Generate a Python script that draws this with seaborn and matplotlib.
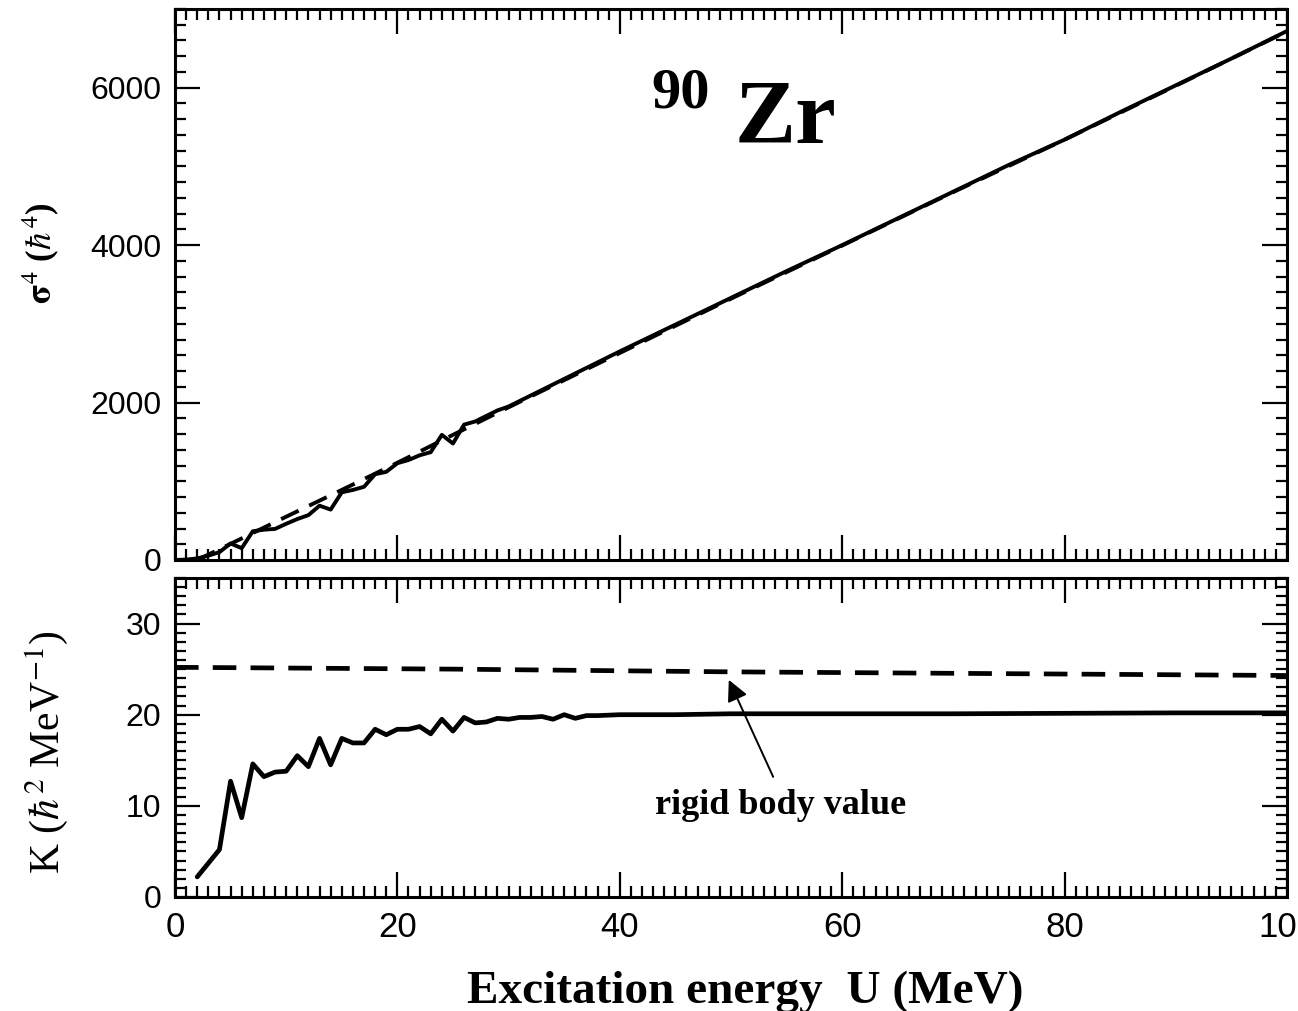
import seaborn as sns
from matplotlib import pyplot as plt
from matplotlib.ticker import MultipleLocator

# upper panel: sigma^4 (hbar^4) vs excitation energy U (MeV)
u_sigma = [0, 1, 2, 3, 4, 5, 6, 7, 8, 9, 10, 11, 12, 13, 14, 15, 16, 17, 18, 19,
           20, 21, 22, 23, 24, 25, 26, 27, 28, 29, 30, 32, 34, 36, 38, 40, 45, 50,
           55, 60, 65, 70, 75, 80, 85, 90, 95, 100]
sigma4 = [0, 5, 20, 55, 100, 210, 150, 365, 385, 395, 460, 520, 570, 690, 640, 860,
          890, 930, 1090, 1120, 1230, 1270, 1330, 1370, 1590, 1480, 1720, 1760, 1830,
          1900, 1950, 2090, 2230, 2370, 2510, 2650, 2990, 3330, 3670, 4000, 4340,
          4680, 5020, 5340, 5690, 6030, 6370, 6720]
u_sigma_rigid = [2, 5, 10, 15, 20, 25, 30, 40, 50, 60, 70, 80, 90, 100]
sigma4_rigid = [0, 205, 550, 890, 1235, 1590, 1940, 2630, 3320, 3995, 4675, 5340, 6025, 6715]

# lower panel: K (hbar^2 MeV^-1)
u_k = [2, 4, 5, 6, 7, 8, 9, 10, 11, 12, 13, 14, 15, 16, 17, 18, 19, 20, 21, 22, 23,
       24, 25, 26, 27, 28, 29, 30, 31, 32, 33, 34, 35, 36, 37, 38, 40, 45, 50, 60,
       70, 80, 90, 100]
k_calc = [2.2, 5.2, 12.7, 8.7, 14.6, 13.2, 13.7, 13.8, 15.5, 14.3, 17.4, 14.5, 17.4,
          16.9, 16.9, 18.4, 17.8, 18.4, 18.4, 18.7, 17.9, 19.5, 18.2, 19.7, 19.1, 19.2,
          19.6, 19.5, 19.7, 19.7, 19.8, 19.5, 20.0, 19.6, 19.9, 19.9, 20.0, 20.0, 20.1,
          20.1, 20.1, 20.15, 20.2, 20.2]
u_k_rigid = [0, 25, 50, 75, 100]
k_rigid = [25.2, 25.0, 24.7, 24.5, 24.3]

sns.set_theme(style="ticks")
plt.rcParams["font.family"] = ["Liberation Sans", "DejaVu Sans"]
plt.rcParams["text.color"] = "black"
plt.rcParams["xtick.labelcolor"] = "black"
plt.rcParams["ytick.labelcolor"] = "black"
plt.rcParams["mathtext.fontset"] = "stix"
serif = ["Liberation Serif", "DejaVu Serif"]

fig = plt.figure(figsize=(12.98, 10.11), dpi=100)
ax1 = fig.add_axes([0.1348, 0.4461, 0.8567, 0.5450])
ax2 = fig.add_axes([0.1348, 0.1128, 0.8567, 0.3155])

sns.lineplot(x=u_sigma, y=sigma4, ax=ax1, color="black", lw=2.8)
sns.lineplot(x=u_sigma_rigid, y=sigma4_rigid, ax=ax1, color="black", lw=2.8,
             linestyle=(0, (5, 3)))
sns.lineplot(x=u_k, y=k_calc, ax=ax2, color="black", lw=3.4)
sns.lineplot(x=u_k_rigid, y=k_rigid, ax=ax2, color="black", lw=3.4,
             linestyle=(0, (5, 3)))

ax1.set_xlim(0, 100)
ax1.set_ylim(0, 7000)
ax2.set_xlim(0, 100)
ax2.set_ylim(0, 35)

ax1.yaxis.set_major_locator(MultipleLocator(2000))
ax1.yaxis.set_minor_locator(MultipleLocator(200))
ax2.yaxis.set_major_locator(MultipleLocator(10))
ax2.yaxis.set_minor_locator(MultipleLocator(1))
for ax in (ax1, ax2):
    ax.xaxis.set_major_locator(MultipleLocator(20))
    ax.xaxis.set_minor_locator(MultipleLocator(1))
    ax.tick_params(which="both", direction="in", top=True, right=True,
                   color="black", width=1.6)
    ax.tick_params(which="major", length=18, labelsize=23, pad=10)
    ax.tick_params(which="minor", length=8)
    for sp in ax.spines.values():
        sp.set_linewidth(2.2)
        sp.set_color("black")
    ax.set_xlabel("")
    ax.set_ylabel("")
ax1.tick_params(axis="x", labelbottom=False)
ax2.tick_params(axis="x", labelsize=25)

fig.text(0.502, 0.894, "90", family=serif, weight="bold", fontsize=42, va="baseline")
fig.text(0.566, 0.859, "Zr", family=serif, weight="bold", fontsize=66, va="baseline")

fig.text(0.031, 0.75, r"$\mathbf{\sigma}^{4}$ ($\hbar^{4}$)", family=serif,
         weight="bold", fontsize=25, rotation=90, ha="center", va="center")
fig.text(0.036, 0.256, r"K ($\hbar^{2}$ MeV$^{-1}$)", family=serif, fontsize=30,
         rotation=90, ha="center", va="center")
fig.text(0.574, 0.008, "Excitation energy  U (MeV)", family=serif, weight="bold",
         fontsize=34, ha="center", va="baseline")

ax2.annotate("", xy=(49.7, 24.1), xytext=(53.9, 12.9),
             arrowprops=dict(arrowstyle="-|>", color="black", lw=1.4,
                             mutation_scale=32))
ax2.text(54.5, 10.0, "rigid body value", family=serif, weight="bold", fontsize=26,
         ha="center", va="center")

plt.savefig("out.png", dpi=100)
